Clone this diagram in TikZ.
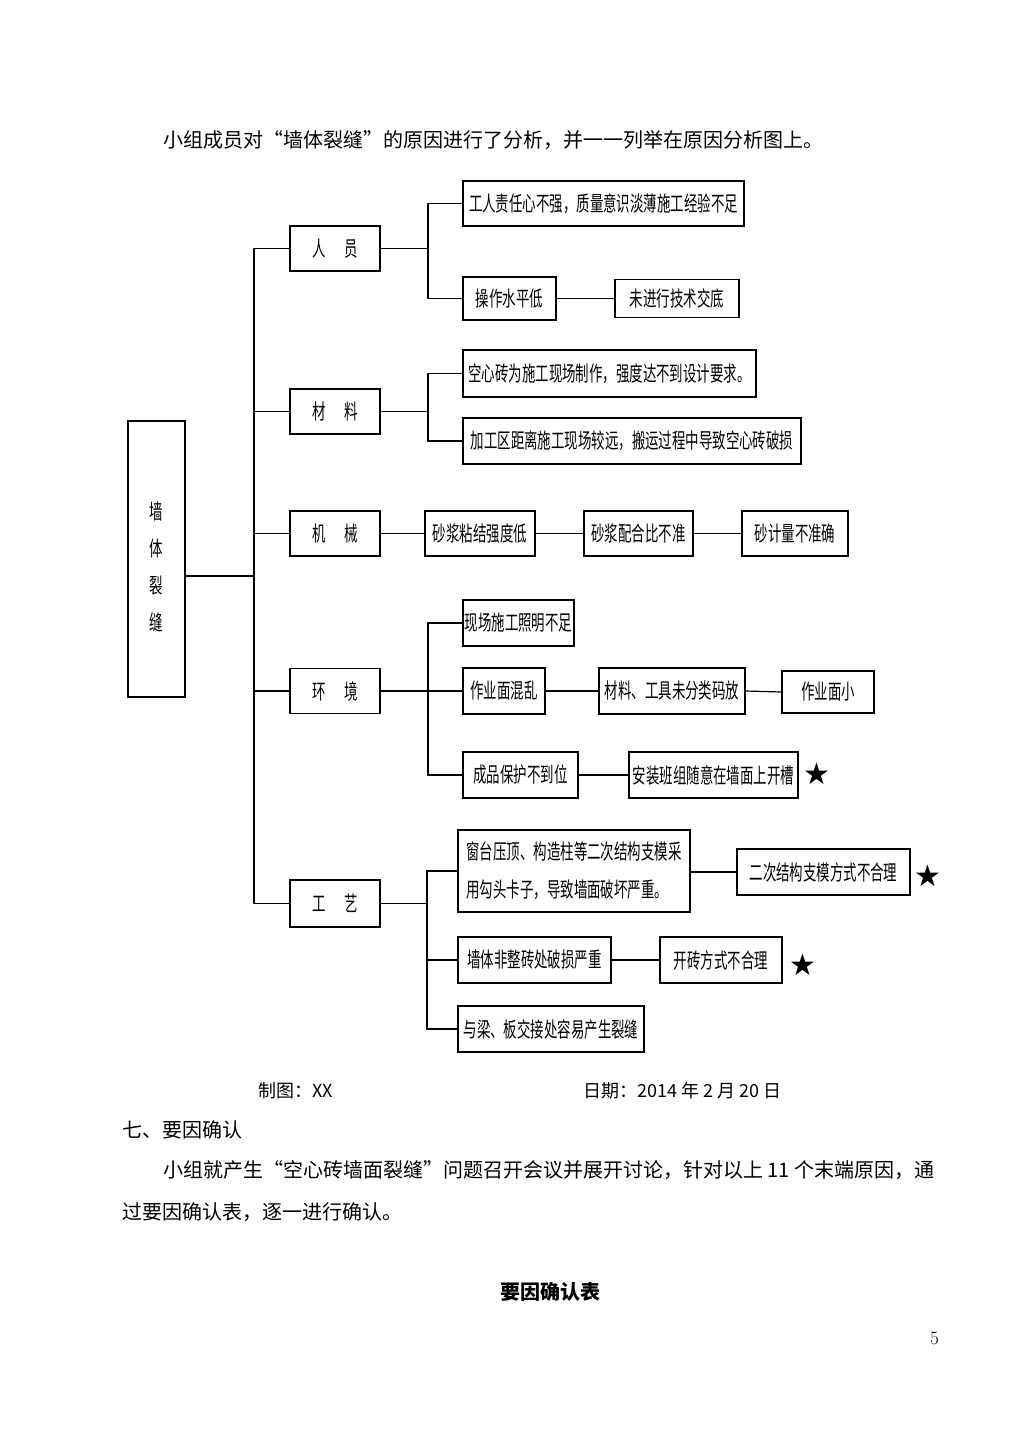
\documentclass[tikz,border=0pt]{standalone}
\usepackage{fontspec}
\newfontfamily\cjk{Noto Sans CJK SC}
\newfontfamily\djv{DejaVu Sans}
\usetikzlibrary{calc}
\newcommand\sq[1]{\scalebox{0.64}[1]{#1}}
\newcommand\gapc{\hspace{1.4em}}
\begin{document}
\begin{tikzpicture}[x=1pt,y=-1pt,
  box/.style={draw,line width=1.8pt,inner sep=0pt,font=\cjk\fontsize{21}{24}\selectfont},
  ln/.style={line width=1.8pt},
  lk/.style={line width=1.2pt},
  body/.style={anchor=base west,inner sep=0pt,font=\cjk\fontsize{20}{24}\selectfont},
  foot/.style={anchor=base west,inner sep=0pt,font=\cjk\fontsize{18}{22}\selectfont},
  starnode/.style={inner sep=0pt,font=\djv\fontsize{30}{30}\selectfont}]
\useasboundingbox (0,0) rectangle (1012,1431);

% header
\node[body] (hd) at (163,148) {小组成员对“墙体裂缝”的原因进行了分析，并一一列举在原因分析图上。};

% main box
\node[box,minimum width=57pt,minimum height=276pt] (main) at (156.5,559) {};
\node[inner sep=0pt,align=center,font=\cjk\fontsize{21}{37}\selectfont] (mainlbl) at (156.5,567) {\sq{墙}\\\sq{体}\\\sq{裂}\\\sq{缝}};

% categories
\node[box,minimum width=90pt,minimum height=45pt] (ry) at (335,248.5) {\sq{人\gapc 员}};
\node[box,minimum width=90pt,minimum height=45pt] (cl) at (335,411.5) {\sq{材\gapc 料}};
\node[box,minimum width=90pt,minimum height=45pt] (jx) at (335,533.5) {\sq{机\gapc 械}};
\node[box,minimum width=90pt,minimum height=45pt] (hj) at (335,691) {\sq{环\gapc 境}};
\node[box,minimum width=90pt,minimum height=47pt] (gy) at (335,903.5) {\sq{工\gapc 艺}};

% trunk
\coordinate (tj) at (254,576);
\coordinate (ttop) at (254,248.5);
\coordinate (tbot) at (254,903.5);
\draw[ln] (tj -| main.east) -- (tj);
\draw[ln] (ttop) -- (tbot);
\foreach \c in {ry,cl,jx,hj,gy} \draw[ln] (\c.west) -- (\c.west -| ttop);

% 人员
\node[box,minimum width=281pt,minimum height=45pt] (r1) at (603.5,203.5) {\sq{工人责任心不强，质量意识淡薄施工经验不足}};
\node[box,minimum width=93pt,minimum height=43pt] (r2) at (509.5,298.5) {\sq{操作水平低}};
\node[box,minimum width=124pt,minimum height=38pt] (r3) at (677,298.5) {\sq{未进行技术交底}};
\coordinate (br) at (428,248.5);
\draw[ln] (ry.east) -- (br);
\draw[ln] (r1.west) -| (br) |- (r2.west);
\draw[lk] (r2.east) -- (r3.west);

% 材料
\node[box,minimum width=293pt,minimum height=47pt] (c1) at (609.5,373.5) {\sq{空心砖为施工现场制作，强度达不到设计要求。}};
\node[box,minimum width=338pt,minimum height=46pt] (c2) at (632,441) {\sq{加工区距离施工现场较远，搬运过程中导致空心砖破损}};
\coordinate (bc) at (428,411.5);
\draw[ln] (cl.east) -- (bc);
\draw[ln] (c1.west) -| (bc) |- (c2.west);

% 机械
\node[box,minimum width=110pt,minimum height=45pt] (j1) at (480,533.5) {\sq{砂浆粘结强度低}};
\node[box,minimum width=109pt,minimum height=45pt] (j2) at (638.5,533.5) {\sq{砂浆配合比不准}};
\node[box,minimum width=106pt,minimum height=45pt] (j3) at (795,533.5) {\sq{砂计量不准确}};
\draw[lk] (jx.east) -- (j1.west);
\draw[lk] (j1.east) -- (j2.west);
\draw[lk] (j2.east) -- (j3.west);

% 环境
\node[box,minimum width=111pt,minimum height=46pt] (h1) at (518.5,623) {\sq{现场施工照明不足}};
\node[box,minimum width=82pt,minimum height=46pt] (h2) at (504,691) {\sq{作业面混乱}};
\node[box,minimum width=146pt,minimum height=46pt] (h3) at (672,691) {\sq{材料、工具未分类码放}};
\node[box,minimum width=92pt,minimum height=42pt] (h4) at (828,692) {\sq{作业面小}};
\node[box,minimum width=115pt,minimum height=46pt] (h5) at (520.5,775) {\sq{成品保护不到位}};
\node[box,minimum width=169pt,minimum height=46pt] (h6) at (713.5,775) {\sq{安装班组随意在墙面上开槽}};
\node[starnode] (s1) at (817,774) {★};
\coordinate (bh) at (428,691);
\draw[lk] (hj.east) -- (bh);
\draw[lk] (bh) -- (h2.west);
\draw[ln] (h1.west) -| (bh) |- (h5.west);
\draw[lk] (h2.east) -- (h3.west);
\draw[lk] (h3.east) -- (h4.west);
\draw[lk] (h5.east) -- (h6.west);

% 工艺
\node[box,minimum width=232pt,minimum height=82pt,align=left,font=\cjk\fontsize{21}{38}\selectfont] (g1) at (574,871) {\sq{窗台压顶、构造柱等二次结构支模采}\\\sq{用勾头卡子，导致墙面破坏严重。}};
\node[box,minimum width=173pt,minimum height=46pt] (g2) at (823.5,872) {\sq{二次结构支模方式不合理}};
\node[starnode] (s2) at (928,876) {★};
\node[box,minimum width=153pt,minimum height=46pt] (g3) at (534.5,960) {\sq{墙体非整砖处破损严重}};
\node[box,minimum width=122pt,minimum height=46pt] (g4) at (721,960) {\sq{开砖方式不合理}};
\node[starnode] (s3) at (803,965) {★};
\node[box,minimum width=186pt,minimum height=46pt] (g5) at (551,1029) {\sq{与梁、板交接处容易产生裂缝}};
\coordinate (bg) at (427,903.5);
\draw[ln] (gy.east) -- (bg);
\draw[ln] (g1.west) -| (bg) |- (g5.west);
\draw[ln] (bg) |- (g3.west);
\draw[lk] (g1.east |- g2.west) -- (g2.west);
\draw[lk] (g3.east) -- (g4.west);

% footer
\node[foot] (f1) at (258,1097) {制图：XX};
\node[foot] (f2) at (583,1097) {日期：2014 年 2 月 20 日};
\node[body] (f3) at (122,1137) {七、要因确认};
\node[body] (f4) at (163,1177) {小组就产生“空心砖墙面裂缝”问题召开会议并展开讨论，针对以上 11 个末端原因，通};
\node[body] (f5) at (122,1219) {过要因确认表，逐一进行确认。};
\node[body,font=\cjk\bfseries\fontsize{20}{24}\selectfont] (f6) at (500,1299) {要因确认表};
\node[anchor=base west,inner sep=0pt,font=\fontsize{19}{22}\selectfont] (pg) at (930,1344) {5};
\end{tikzpicture}
\end{document}
